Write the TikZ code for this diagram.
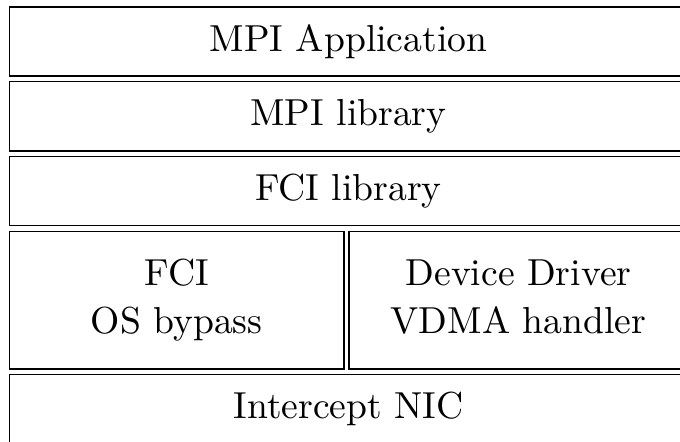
\documentclass[tikz,border=0pt]{standalone}
\newcommand{\lbl}[1]{\scalebox{1.88}{\renewcommand\arraystretch{1.07}\begin{tabular}{@{}c@{}}#1\end{tabular}}}
\begin{document}
\begin{tikzpicture}[x=0.5pt,y=-0.5pt,
  layerbox/.style={draw=black, line width=0.6pt},
  lbltext/.style={inner sep=0pt, align=center}]
\useasboundingbox (0,0) rectangle (680,441);
\begin{scope}
\clip (0,0) rectangle (680,441);
\draw[layerbox] (9.5,7) rectangle (688,76);
\node[lbltext] (app) at (348.5,41.5) {\lbl{MPI Application}};
\draw[layerbox] (9.5,81.5) rectangle (688,151);
\node[lbltext] (mpi) at (348.5,116) {\lbl{MPI library}};
\draw[layerbox] (9.5,156.5) rectangle (688,225.5);
\node[lbltext] (fcil) at (348.5,191) {\lbl{FCI library}};
\draw[layerbox] (9.5,231.5) rectangle (344,369);
\node[lbltext] (os) at (176.7,300) {\lbl{FCI\\OS bypass}};
\draw[layerbox] (349,231.5) rectangle (688,369);
\node[lbltext] (dd) at (518.5,300) {\lbl{Device Driver\\VDMA handler}};
\draw[layerbox] (9.5,374.5) rectangle (688,444);
\node[lbltext] (nic) at (348.5,409) {\lbl{Intercept NIC}};
\end{scope}
\end{tikzpicture}
\end{document}
